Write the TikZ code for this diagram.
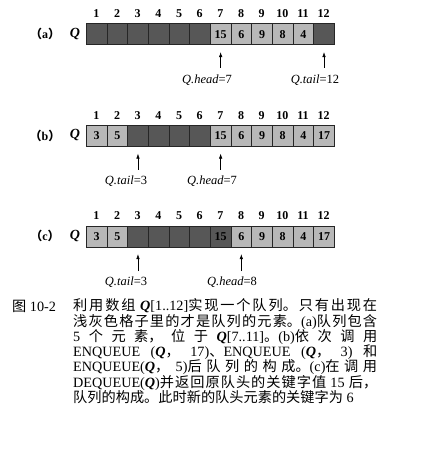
\documentclass[tikz,border=0pt]{standalone}
\usepackage{fontspec}
\usetikzlibrary{arrows.meta}
\setmainfont{Liberation Serif}
\newfontfamily\cjk{Noto Sans CJK SC}
\XeTeXlinebreaklocale "zh"
\XeTeXlinebreakskip=0pt plus 3pt
\begin{document}
\begin{tikzpicture}[x=1pt,y=-1pt,
  cellbox/.style={draw=black!85, line width=0.6pt, minimum width=20.67pt, minimum height=21pt,
     inner sep=0pt, anchor=north west, font=\fontsize{12}{12}\selectfont\bfseries},
  dk/.style={cellbox, fill=black!66},
  lt/.style={cellbox, fill=black!28},
  idx/.style={font=\fontsize{12}{12}\selectfont\bfseries, inner sep=0pt},
  rowlab/.style={font=\fontsize{12}{12}\selectfont\bfseries, inner sep=0pt},
  qlab/.style={font=\fontsize{14}{14}\selectfont\itshape\bfseries, inner sep=0pt},
  ptr/.style={font=\fontsize{12.5}{12.5}\selectfont, inner sep=0pt},
  arr/.style={-{Latex[length=5pt,width=3.5pt]}, line width=0.6pt, shorten >=7pt},
  captext/.style={font=\fontsize{14.2}{15.3}\selectfont, inner sep=0pt}]
\useasboundingbox (0,0) rectangle (434,470);

% ---- row (a)
\foreach \i/\s/\t in {1/dk/{},2/dk/{},3/dk/{},4/dk/{},5/dk/{},6/dk/{},7/lt/15,8/lt/6,9/lt/9,10/lt/8,11/lt/4,12/dk/{}}{
  \node[\s] (a\i) at ({86+(\i-1)*20.67},23.5) {\t};
  \node[idx] (ai\i) at ({86+(\i-0.5)*20.67},14) {\i};
}
\node[rowlab] (la) at (45,34) {{\cjk （}a{\cjk ）}};
\node[qlab] (qa) at (75,34) {Q};
\coordinate (ah) at (a7.south |- 0,68);
\coordinate (at) at (a12.south |- 0,68);
\draw[arr] (ah) -- (a7.south);
\draw[arr] (at) -- (a12.south);
\node[ptr] (pah) at (207,80) {\textit{Q.head}=7};
\node[ptr] (pat) at (315,80) {\textit{Q.tail}=12};

% ---- row (b)
\foreach \i/\s/\t in {1/lt/3,2/lt/5,3/dk/{},4/dk/{},5/dk/{},6/dk/{},7/lt/15,8/lt/6,9/lt/9,10/lt/8,11/lt/4,12/lt/17}{
  \node[\s] (b\i) at ({86+(\i-1)*20.67},125) {\t};
  \node[idx] (bi\i) at ({86+(\i-0.5)*20.67},115.5) {\i};
}
\node[rowlab] (lb) at (45,135.5) {{\cjk （}b{\cjk ）}};
\node[qlab] (qb) at (75,135.5) {Q};
\coordinate (bt) at (b3.south |- 0,170);
\coordinate (bh) at (b7.south |- 0,170);
\draw[arr] (bt) -- (b3.south);
\draw[arr] (bh) -- (b7.south);
\node[ptr] (pbt) at (126,181) {\textit{Q.tail}=3};
\node[ptr] (pbh) at (212,181) {\textit{Q.head}=7};

% ---- row (c)
\foreach \i/\s/\t in {1/lt/3,2/lt/5,3/dk/{},4/dk/{},5/dk/{},6/dk/{},7/dk/15,8/lt/6,9/lt/9,10/lt/8,11/lt/4,12/lt/17}{
  \node[\s] (c\i) at ({86+(\i-1)*20.67},225.5) {\t};
  \node[idx] (ci\i) at ({86+(\i-0.5)*20.67},216) {\i};
}
\node[rowlab] (lc) at (45,236) {{\cjk （}c{\cjk ）}};
\node[qlab] (qc) at (75,236) {Q};
\coordinate (ct) at (c3.south |- 0,271);
\coordinate (ch) at (c8.south |- 0,271);
\draw[arr] (ct) -- (c3.south);
\draw[arr] (ch) -- (c8.south);
\node[ptr] (pct) at (126,282) {\textit{Q.tail}=3};
\node[ptr] (pch) at (232,282) {\textit{Q.head}=8};

% ---- caption
\node[captext, anchor=base west] (fig) at (12,311.5) {{\cjk 图} 10-2};
\node[captext, anchor=north west, text width=304pt, align=justify] (body) at (73,298.5) {%
{\cjk 利用数组} \textbf{\textit{Q}}[1..12]{\cjk 实现一个队列。只有出现在}\linebreak
{\cjk 浅灰色格子里的才是队列的元素。}(a){\cjk 队列包含}\linebreak
5 {\cjk 个元素，位于} \textbf{\textit{Q}}[7..11]{\cjk 。}(b){\cjk 依次调用}\linebreak
ENQUEUE ({\bfseries\itshape Q}{\cjk ，} 17){\cjk 、}ENQUEUE ({\bfseries\itshape Q}{\cjk ，} 3) {\cjk 和}\linebreak
ENQUEUE({\bfseries\itshape Q}{\cjk ，} 5){\cjk 后队列的构成。}(c){\cjk 在调用}\linebreak
DEQUEUE({\bfseries\itshape Q}){\cjk 并返回原队头的关键字值} 15 {\cjk 后，}\linebreak
{\cjk 队列的构成。此时新的队头元素的关键字为} 6};
\end{tikzpicture}
\end{document}
